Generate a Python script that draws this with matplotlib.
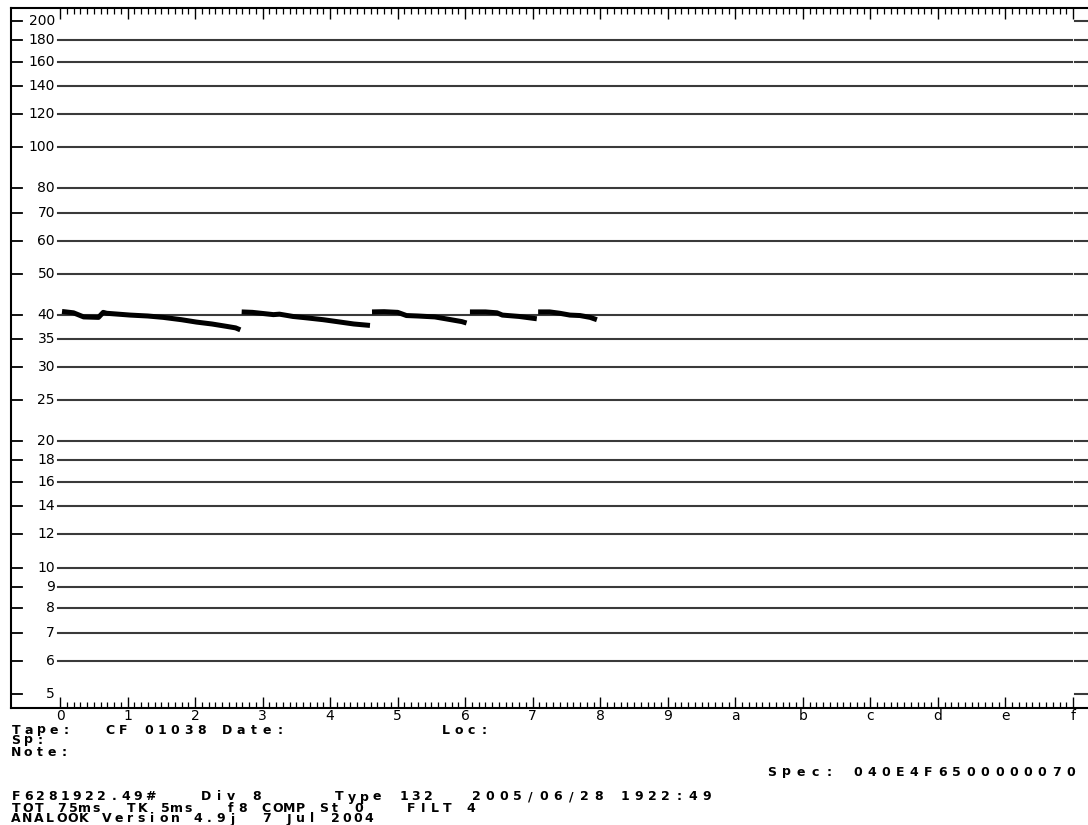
import numpy as np
import matplotlib
matplotlib.use("Agg")
import matplotlib.pyplot as plt
import matplotlib.transforms as mtransforms
from matplotlib.ticker import NullLocator

W, H = 1088, 825

# frequency axis (kHz, log) and time axis (hex divisions)
freq_ticks = [5, 6, 7, 8, 9, 10, 12, 14, 16, 18, 20, 25, 30, 35, 40,
              50, 60, 70, 80, 100, 120, 140, 160, 180, 200]
time_ticks = list(range(16))
time_labels = ["0", "1", "2", "3", "4", "5", "6", "7", "8", "9",
               "a", "b", "c", "d", "e", "f"]

# bat calls: time (divisions) / frequency (kHz)
call1_t = [0.03, 0.2, 0.35, 0.57, 0.64, 0.69, 1.04, 1.3, 1.53, 1.8, 2.02, 2.25, 2.47, 2.6, 2.67]
call1_f = [40.7, 40.4, 39.5, 39.4, 40.5, 40.3, 39.9, 39.7, 39.4, 38.9, 38.4, 38.0, 37.5, 37.2, 36.8]
call2_t = [2.69, 2.85, 3.16, 3.25, 3.45, 3.65, 3.9, 4.15, 4.35, 4.59]
call2_f = [40.6, 40.5, 40.0, 40.1, 39.6, 39.3, 38.9, 38.4, 38.0, 37.7]
call3_t = [4.62, 4.8, 5.0, 5.13, 5.3, 5.55, 5.75, 5.95, 6.02]
call3_f = [40.6, 40.65, 40.5, 39.8, 39.7, 39.5, 39.0, 38.5, 38.2]
call4_t = [6.07, 6.3, 6.47, 6.55, 6.8, 7.06]
call4_f = [40.6, 40.6, 40.4, 39.9, 39.6, 39.1]
call5_t = [7.08, 7.25, 7.4, 7.55, 7.7, 7.85, 7.95]
call5_f = [40.6, 40.6, 40.3, 39.9, 39.8, 39.4, 38.9]
calls = [(call1_t, call1_f), (call2_t, call2_f), (call3_t, call3_f),
         (call4_t, call4_f), (call5_t, call5_f)]

# header text: (text, x px, y px, char pitch px)
info_lines = [
    ("Tape:", 10, 730, 12.4),
    ("CF 01038 Date:", 103, 730, 13.1),
    ("Loc:", 440, 730, 12.5),
    ("Sp:", 10, 740, 12.0),
    ("Note:", 10, 752, 12.0),
    ("Spec: 040E4F6500000070", 765, 772, 14.2),
    ("F6281922.49#", 10, 797, 12.2),
    ("Div 8", 200, 797, 12.5),
    ("Type", 333, 797, 12.5),
    ("132", 398, 797, 12.0),
    ("2005/06/28 1922:49", 470, 797, 13.5),
    ("TOT 75ms  TK 5ms", 10, 808, 11.5),
    ("f8 COMP St 0", 225, 808, 11.6),
    ("FILT 4", 405, 808, 12.0),
    ("ANALOOK Version 4.9j  7 Jul 2004", 10, 819, 11.4),
]

fig = plt.figure(figsize=(W / 100, H / 100), dpi=100)
ax = fig.add_axes([11 / W, 1 - 708 / H, 1 - 11 / W, 700 / H])
ax.set_yscale("log")
ax.set_ylim(4.63, 214.8)
ax.set_xlim(-0.7256, 15.222)
ax.yaxis.set_major_locator(NullLocator())
ax.yaxis.set_minor_locator(NullLocator())

ax.set_xticks(time_ticks, time_labels)
ax.set_xticks(np.arange(0, 15.001, 0.1), minor=True)
ax.tick_params(axis="x", which="major", direction="in", length=8, width=1,
               top=True, pad=1, labelsize=10)
ax.tick_params(axis="x", which="minor", direction="in", length=4, width=0.9, top=True)
ax.spines["right"].set_visible(False)
for s in ["left", "top", "bottom"]:
    ax.spines[s].set_linewidth(1.5)

trans = mtransforms.blended_transform_factory(ax.transAxes, ax.transData)


def ax_x(px):
    return (px - 11) / (W - 11)


for v in freq_ticks:
    ax.plot([0, ax_x(22)], [v, v], transform=trans, color="black", lw=1.3, clip_on=False)
    ax.text(ax_x(55), v, str(v), transform=trans, ha="right", va="center", fontsize=10)
    if 5 < v < 200:
        ax.plot([ax_x(58), ax_x(1072)], [v, v], transform=trans, color="#3a3a3a",
                lw=1.5, clip_on=False)
    ax.plot([ax_x(1075), 1], [v, v], transform=trans, color="#3a3a3a", lw=1.5, clip_on=False)

for t, f in calls:
    ax.plot(t, f, color="black", lw=3.6, solid_capstyle="butt")


def pixel_text(s, x, y, pitch, size=9):
    for i, ch in enumerate(s):
        if ch == " ":
            continue
        fig.text((x + pitch * (i + 0.5)) / W, 1 - y / H, ch, ha="center", va="center",
                 fontsize=size, fontweight="bold", family="DejaVu Sans")


for s, x, y, p in info_lines:
    pixel_text(s, x, y, p)

fig.savefig("out.png", dpi=100)
